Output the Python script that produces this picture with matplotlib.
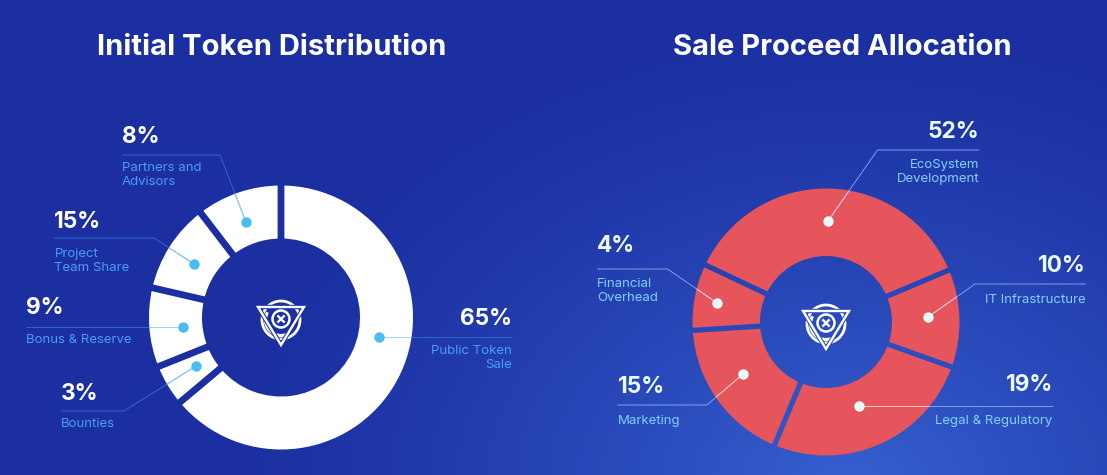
import numpy as np
import matplotlib
matplotlib.use("Agg")
import matplotlib.pyplot as plt
from matplotlib.path import Path
from matplotlib.patches import Circle, Polygon, Arc

W, H = 1107, 475

# ---- data -------------------------------------------------------------
titles = ["Initial Token Distribution", "Sale Proceed Allocation"]

token_labels = ["Public Token\nSale", "Bounties", "Bonus & Reserve", "Project\nTeam Share", "Partners and\nAdvisors"]
token_pct = ["65%", "3%", "9%", "15%", "8%"]
# arc length of every slice as drawn in the picture, degrees, clockwise
token_arcs = [230.0, 18.2, 34.8, 39.5, 37.5]

sale_labels = ["EcoSystem\nDevelopment", "IT Infrastructure", "Legal & Regulatory", "Marketing", "Financial\nOverhead"]
sale_pct = ["52%", "10%", "19%", "15%", "4%"]
sale_arcs = [131.8, 42.6, 93.0, 63.7, 28.9]

# ---- layout, pixel coordinates with y measured from the top ------------
token_ring = dict(cx=281, cy=317.5, r=132, hole=79, gap=6.8, start=90.0)
sale_ring = dict(cx=826, cy=322, r=133.5, hole=66, gap=5.2, start=154.7)

# anchor x, side, pct y, label first-line y, leader (line y, elbow x, dot x, dot y)
token_notes = [
    (512, "right", 319, 351, (337, 512, 379, 337)),
    (61, "left", 394, 424, (411, 124, 196, 366)),
    (26, "left", 308.5, 340, (326.7, 183, 183, 326.7)),
    (54.4, "left", 222, 254, (238, 154, 194, 264)),
    (122, "left", 137, 168, (155, 220, 246, 222)),
]
sale_notes = [
    (979.4, "right", 132, 165, (150, 877.5, 828, 221)),
    (1086, "right", 266, 300, (284, 975, 928, 317)),
    (1052.7, "right", 385, 421, (406, 859, 859, 406)),
    (617.6, "left", 387, 421, (405, 707, 743, 374)),
    (597, "left", 246, 284, (269, 667.5, 717, 303)),
]

FONT = "Inter"
plt.rcParams["font.family"] = [FONT, "DejaVu Sans"]


def Y(y):
    return H - y


# ---- background --------------------------------------------------------
yy, xx = np.mgrid[0:H, 0:W]
d = np.hypot((xx - 850) / 620.0, (yy - 490) / 470.0)
t = np.clip(1 - d, 0, 1) ** 1.25
c0 = np.array([27, 47, 160]) / 255.0
c1 = np.array([54, 96, 208]) / 255.0
bg = c0 + (c1 - c0) * t[..., None]

fig = plt.figure(figsize=(W / 100, H / 100), dpi=100)
ax = fig.add_axes([0, 0, 1, 1])
ax.imshow(bg, extent=(0, W, 0, H), origin="upper", aspect="auto", zorder=0, interpolation="bilinear")


def ring(arcs, spec, color):
    wedges, _ = ax.pie(
        arcs, colors=[color] * len(arcs), startangle=spec["start"], counterclock=False,
        center=(spec["cx"], Y(spec["cy"])), radius=spec["r"],
        wedgeprops=dict(width=spec["r"] - spec["hole"], linewidth=0),
    )
    for w in wedges:
        w.set_zorder(1)
    # parallel-sided gaps between slices show the background again
    a = spec["start"]
    verts, codes = [], []
    for arc in arcs:
        rad = np.deg2rad(a)
        u = np.array([np.cos(rad), np.sin(rad)])
        n = np.array([-u[1], u[0]]) * spec["gap"] / 2
        c = np.array([spec["cx"], Y(spec["cy"])])
        r0, r1 = spec["hole"] - 3, spec["r"] + 3
        pts = [c + u * r0 + n, c + u * r1 + n, c + u * r1 - n, c + u * r0 - n, c + u * r0 + n]
        verts += pts
        codes += [Path.MOVETO, Path.LINETO, Path.LINETO, Path.LINETO, Path.CLOSEPOLY]
        a -= arc
    im = ax.imshow(bg, extent=(0, W, 0, H), origin="upper", aspect="auto", zorder=1.5, interpolation="bilinear")
    im.set_clip_path(Path(verts, codes), ax.transData)


def notes(labels, pcts, spec_notes, spec, pct_color, lab_color, line_color, line_on_ring, dot_color):
    disc = Circle((spec["cx"], Y(spec["cy"])), spec["r"], transform=ax.transData)
    for lab, pct, (x, side, py, ly, (ln_y, elbow, dx, dy)) in zip(labels, pcts, spec_notes):
        lx, ly2 = [x, elbow, dx], [Y(ln_y), Y(ln_y), Y(dy)]
        ax.plot(lx, ly2, color=line_color, lw=0.7, zorder=2, solid_capstyle="butt")
        over, = ax.plot(lx, ly2, color=line_on_ring, lw=0.7, zorder=2.1, solid_capstyle="butt")
        over.set_clip_path(disc)
        ax.scatter([dx], [Y(dy)], s=56, color=dot_color, zorder=3, linewidths=0)
        ax.text(x, Y(py), pct, color=pct_color, fontsize=16.3, fontweight="bold", ha=side, va="center", zorder=4)
        for i, part in enumerate(lab.split("\n")):
            ax.text(x, Y(ly + i * 14.3), part, color=lab_color, fontsize=9.5, ha=side, va="center", zorder=4)


def logo(cx, cy, hole_color):
    cy = Y(cy)
    white = "white"
    ax.add_patch(Circle((cx, cy - 1), 19, fc="none", ec=white, lw=2.0, zorder=3))
    ax.add_patch(Arc((cx, cy - 1), 31, 31, theta1=150, theta2=300, ec=white, lw=2.2, zorder=3))
    tri = [(cx - 23, cy + 12), (cx + 23, cy + 12), (cx, cy - 26)]
    ax.add_patch(Polygon(tri, closed=True, fc="none", ec=hole_color, lw=3.2, joinstyle="miter", zorder=3.1))
    ax.add_patch(Polygon(tri, closed=True, fc="none", ec=white, lw=1.7, joinstyle="miter", zorder=3.2))
    ax.add_patch(Circle((cx, cy), 8.5, fc=hole_color, ec=white, lw=1.8, zorder=3.3))
    s = 3.6
    ax.plot([cx - s, cx + s], [cy - s, cy + s], color=white, lw=1.7, zorder=3.4, solid_capstyle="butt")
    ax.plot([cx - s, cx + s], [cy + s, cy - s], color=white, lw=1.7, zorder=3.4, solid_capstyle="butt")


ring(token_arcs, token_ring, "white")
ring(sale_arcs, sale_ring, "#e5555b")
notes(token_labels, token_pct, token_notes, token_ring, "white", "#4a9df2", "#2f66d2", "#a5dcf8", "#4bbcf0")
notes(sale_labels, sale_pct, sale_notes, sale_ring, "#e9fbff", "#7fd2fb", "#7f9fe6", "#f2c9c9", "#e8fbfa")
logo(281, 319, "#1c32a4")
logo(826, 323, "#2a4cb8")

ax.text(271.5, Y(47.5), titles[0], color="white", fontsize=21, fontweight="bold", ha="center", va="center", zorder=4)
ax.text(842, Y(47.5), titles[1], color="white", fontsize=21, fontweight="bold", ha="center", va="center", zorder=4)

ax.set_xlim(0, W)
ax.set_ylim(0, H)
ax.set_aspect("auto")
ax.axis("off")
fig.savefig("out.png", dpi=100)
